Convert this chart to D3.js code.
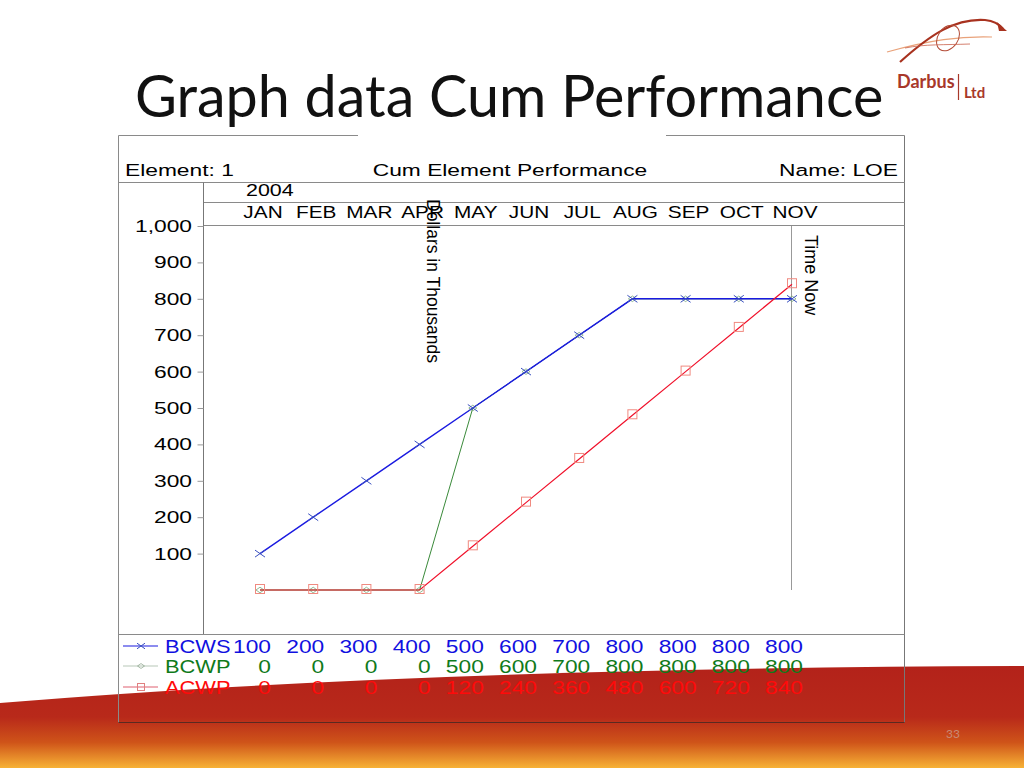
<!DOCTYPE html>
<html>
<head>
<meta charset="utf-8">
<script src="https://cdn.jsdelivr.net/npm/d3@7/dist/d3.min.js"></script>
<style>
html,body{margin:0;padding:0;background:#fff;}
svg{display:block;}
</style>
</head>
<body>
<svg id="c" width="1024" height="768"></svg>
<script>
const months = ["JAN","FEB","MAR","APR","MAY","JUN","JUL","AUG","SEP","OCT","NOV"];
const bcws = [100,200,300,400,500,600,700,800,800,800,800];
const bcwp = [0,0,0,0,500,600,700,800,800,800,800];
const acwp = [0,0,0,0,120,240,360,480,600,720,840];
const yTicks = [100,200,300,400,500,600,700,800,900,1000];
const seriesNames = ["BCWS","BCWP","ACWP"];

const svg = d3.select("#c");
const SX = 1.34;
const CF = "'Liberation Sans', Arial, sans-serif";

// ---- background wave ----
const defs = svg.append("defs");
const grad = defs.append("linearGradient").attr("id","wave").attr("x1",0).attr("y1",0).attr("x2",0).attr("y2",1);
grad.append("stop").attr("offset","0%").attr("stop-color","#b3221a");
grad.append("stop").attr("offset","50%").attr("stop-color","#b8291a");
grad.append("stop").attr("offset","75%").attr("stop-color","#cf5419");
grad.append("stop").attr("offset","100%").attr("stop-color","#f7b236");
svg.append("path")
  .attr("d","M0,703 Q420,668 1024,666 L1024,768 L0,768 Z")
  .attr("fill","url(#wave)");

// ---- title ----
svg.append("text").attr("x",135).attr("y",117)
  .attr("font-family","Lato, 'Open Sans', sans-serif").attr("font-size",57.5)
  .attr("fill","#111").text("Graph data Cum Performance");

// ---- logo ----
const logo = svg.append("g");
logo.append("path").attr("d","M887,52 C930,40 960,36 992,37").attr("fill","none").attr("stroke","#e9a27a").attr("stroke-width",1.2);
logo.append("path").attr("d","M900,62 C930,35 955,18 985,20 C995,21 1000,25 1003,29").attr("fill","none").attr("stroke","#a8321f").attr("stroke-width",2.2);
logo.append("path").attr("d","M1007,31 L997,22 L999,31 Z").attr("fill","#a8321f");
logo.append("ellipse").attr("cx",948).attr("cy",38).attr("rx",10).attr("ry",14).attr("transform","rotate(35,948,38)").attr("fill","none").attr("stroke","#b34a35").attr("stroke-width",1);
logo.append("path").attr("d","M905,48 C925,44 945,45 970,44").attr("fill","none").attr("stroke","#c9604a").attr("stroke-width",0.8);
logo.append("text").attr("x",897).attr("y",88).attr("font-family","Lato, sans-serif").attr("font-weight","bold").attr("font-size",18).attr("fill","#a8382a").text("Darbus");
logo.append("line").attr("x1",958.5).attr("x2",958.5).attr("y1",74).attr("y2",100).attr("stroke","#a8382a").attr("stroke-width",1.2);
logo.append("text").attr("x",964).attr("y",98).attr("font-family","Lato, sans-serif").attr("font-weight","bold").attr("font-size",15).attr("fill","#a8382a").text("Ltd");

// ---- slide number ----
svg.append("text").attr("x",953).attr("y",738).attr("text-anchor","middle")
  .attr("font-family","Lato, sans-serif").attr("font-size",12).attr("fill","#c98a75").text("33");

// ---- frame ----
const frame = svg.append("g").attr("stroke","#8a8a8a").attr("stroke-width",1).attr("fill","none");
const L = 118.5, R = 904.5, T = 135.5, B = 722.5;
frame.append("line").attr("x1",L).attr("x2",358).attr("y1",T).attr("y2",T);
frame.append("line").attr("x1",666).attr("x2",R).attr("y1",T).attr("y2",T);
frame.append("line").attr("x1",L).attr("x2",L).attr("y1",T).attr("y2",B);
frame.append("line").attr("x1",R).attr("x2",R).attr("y1",T).attr("y2",B).attr("stroke","#777");
frame.append("line").attr("x1",L).attr("x2",R).attr("y1",B).attr("y2",B).attr("stroke","#5a2a20");
frame.append("line").attr("x1",L).attr("x2",R).attr("y1",182.5).attr("y2",182.5);
frame.append("line").attr("x1",203.5).attr("x2",R).attr("y1",202.5).attr("y2",202.5);
frame.append("line").attr("x1",203.5).attr("x2",R).attr("y1",225.5).attr("y2",225.5);
frame.append("line").attr("x1",203.5).attr("x2",203.5).attr("y1",182.5).attr("y2",634.5).attr("stroke","#777");
frame.append("line").attr("x1",L).attr("x2",R).attr("y1",634.5).attr("y2",634.5);

// scaled text helper
function stext(parent, x, y, str, size, anchor, color, sx) {
  const g = parent.append("g").attr("transform", `translate(${x},${y}) scale(${sx||SX},1)`);
  g.append("text").attr("x",0).attr("y",0).attr("text-anchor",anchor||"start")
    .attr("font-family",CF).attr("font-size",size).attr("fill",color||"#000").text(str);
  return g;
}

// header
stext(svg,125,176,"Element: 1",17,"start");
stext(svg,510,176,"Cum Element Performance",17,"middle");
stext(svg,898,176,"Name: LOE",17,"end");
stext(svg,246,196,"2004",16,"start");

// ---- scales ----
const x = d3.scalePoint().domain(months).range([260,792]).padding(0);
const y = d3.scaleLinear().domain([0,1000]).range([590,226]);

// month labels
months.forEach(m => stext(svg, x(m)+3, 218, m, 16, "middle", "#000", 1.3));

// y axis
const yAxis = d3.axisLeft(y).tickValues(yTicks).tickSize(6).tickFormat(d3.format(","));
const ya = svg.append("g").attr("transform","translate(203.5,0)").call(yAxis);
ya.select(".domain").remove();
ya.selectAll(".tick line").attr("stroke","#999");
ya.selectAll(".tick text").each(function(d){
  const t = d3.select(this);
  const yy = y(d);
  t.remove();
  stext(svg, 192, yy+6, d3.format(",")(d), 17, "end");
});

// time now line
svg.append("line").attr("x1",791.5).attr("x2",791.5).attr("y1",226).attr("y2",590)
  .attr("stroke","#999").attr("stroke-width",1);

// rotated labels
svg.append("text").attr("transform","translate(427,199) rotate(90)")
  .attr("font-family",CF).attr("font-size",17.5).attr("fill","#000").text("Dollars in Thousands");
svg.append("text").attr("transform","translate(805,235) rotate(90)")
  .attr("font-family",CF).attr("font-size",18).attr("fill","#000").text("Time Now");

// ---- series ----
const line = d3.line().x((d,i)=>x(months[i])).y(d=>y(d));
const plot = svg.append("g");

function xMarker(g, cx, cy, col, s) {
  g.append("path").attr("d",`M${cx-s},${cy-s*0.7}L${cx+s},${cy+s*0.7}M${cx-s},${cy+s*0.7}L${cx+s},${cy-s*0.7}`)
    .attr("stroke",col).attr("stroke-width",1).attr("fill","none");
}
function dMarker(g, cx, cy, col, s) {
  g.append("path").attr("d",`M${cx-s},${cy}L${cx},${cy-s*0.7}L${cx+s},${cy}L${cx},${cy+s*0.7}Z`)
    .attr("stroke",col).attr("stroke-width",0.8).attr("fill","none");
}
function sMarker(g, cx, cy, col, s) {
  g.append("rect").attr("x",cx-s).attr("y",cy-s).attr("width",2*s).attr("height",2*s)
    .attr("stroke",col).attr("stroke-width",1).attr("fill","none");
}

// BCWP green
plot.append("path").datum(bcwp).attr("d",line).attr("fill","none").attr("stroke","#3a8a3a").attr("stroke-width",1);
bcwp.forEach((v,i)=>dMarker(plot, x(months[i]), y(v), "#7aa87a", 4));
// BCWS blue
plot.append("path").datum(bcws).attr("d",line).attr("fill","none").attr("stroke","#1a1ae0").attr("stroke-width",1.4);
bcws.forEach((v,i)=>xMarker(plot, x(months[i]), y(v), "#3a50c0", 5));
// ACWP red
plot.append("path").datum(acwp).attr("d",line).attr("fill","none").attr("stroke","#f0102a").attr("stroke-width",1.2);
acwp.forEach((v,i)=>sMarker(plot, x(months[i]), y(v)-1, "#f08a80", 4.5));

// ---- legend table ----
const legendData = [
  {name:seriesNames[0], vals:bcws, col:"#1010e0", lc:"#1a1ae0", mk:"x", mc:"#3a50c0"},
  {name:seriesNames[1], vals:bcwp, col:"#0f7a1a", lc:"#b8c8b8", mk:"d", mc:"#90a890"},
  {name:seriesNames[2], vals:acwp, col:"#ff0a0a", lc:"#e06070", mk:"s", mc:"#e08080"}
];
const rowY = [646, 666, 687];
legendData.forEach((s,r)=>{
  const cy = rowY[r];
  svg.append("line").attr("x1",123).attr("x2",158).attr("y1",cy).attr("y2",cy).attr("stroke",s.lc).attr("stroke-width",1.2);
  if (s.mk==="x") xMarker(svg,141,cy,s.mc,4);
  else if (s.mk==="d") dMarker(svg,141,cy,s.mc,3.5);
  else sMarker(svg,141,cy,s.mc,3.5);
  stext(svg,165,cy+7,s.name,17.5,"start",s.col,1.25);
  s.vals.forEach((v,i)=> stext(svg, x(months[i])+11, cy+7, String(v), 17.5, "end", s.col, 1.3));
});
</script>
</body>
</html>
